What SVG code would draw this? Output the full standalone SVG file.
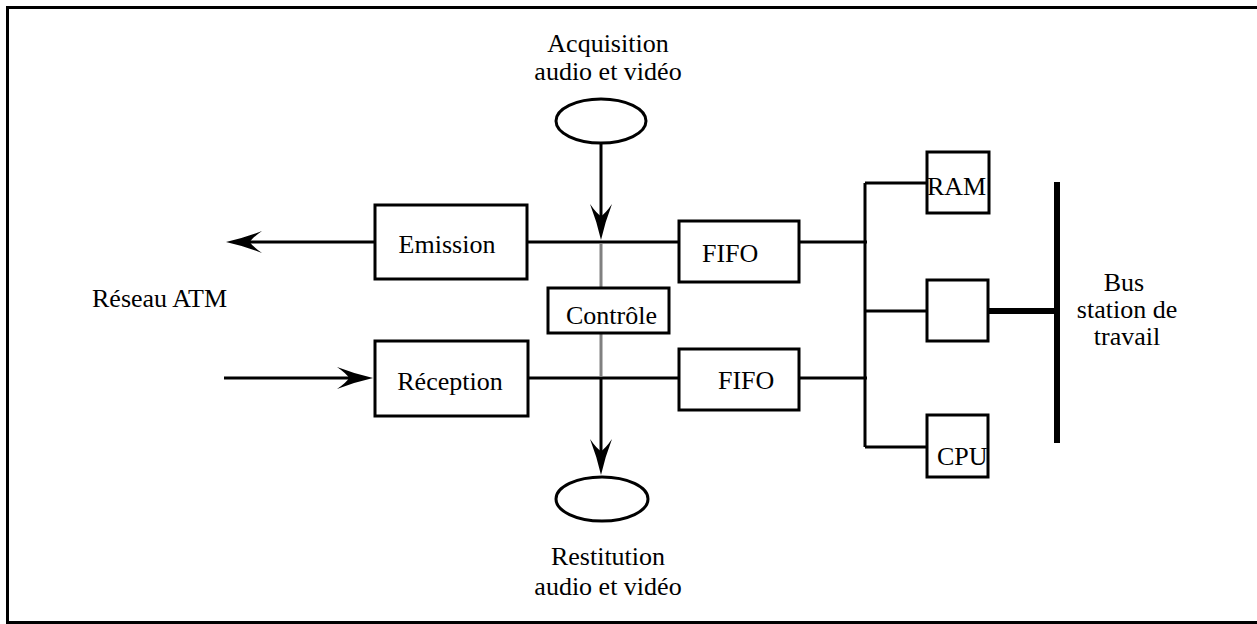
<svg xmlns="http://www.w3.org/2000/svg" width="1257" height="624" viewBox="0 0 1257 624">
<style>
  text { font-family: 'Liberation Serif', 'DejaVu Serif', serif; font-size: 26px; fill: #000; }
  .c { text-anchor: middle; }
  .box { fill: #fff; stroke: #000; stroke-width: 3; }
  .ell { fill: #fff; stroke: #000; stroke-width: 3; }
  .ln { fill: none; stroke: #000; stroke-width: 3; }
  .grey { fill: none; stroke: #808080; stroke-width: 3; }
  .thick { fill: none; stroke: #000; stroke-width: 6; }
</style>
<defs>
  <marker id="arr" markerUnits="userSpaceOnUse" markerWidth="40" markerHeight="26" viewBox="-27 -13 40 26" refX="0" refY="0" orient="auto">
    <path d="M10,0 Q-8,-4 -26,-11 Q-16,-4 -14,0 Q-16,4 -26,11 Q-8,4 10,0 Z" fill="#000"/>
  </marker>
</defs>
<rect x="7.5" y="7.5" width="1260" height="615" fill="none" stroke="#000" stroke-width="3"/>

<g id="connectors">
  <path class="ln" d="M601,143 V230" marker-end="url(#arr)"/>
  <path class="ln" d="M375,242 H236" marker-end="url(#arr)"/>
  <path class="ln" d="M527,242 H679"/>
  <path class="ln" d="M799,242 H867"/>
  <path class="ln" d="M224,378 H363" marker-end="url(#arr)"/>
  <path class="ln" d="M528,378 H679"/>
  <path class="ln" d="M799,378 H867"/>
  <path class="grey" d="M601,243.5 V288 M601,333 V377"/>
  <path class="ln" d="M601,377 V465" marker-end="url(#arr)"/>
  <path class="ln" d="M865,183 V447 M865,183 H927 M865,311 H927 M865,447 H927"/>
  <path class="thick" d="M988,311 H1057"/>
  <path class="thick" d="M1057,182 V443"/>
</g>

<g id="acquisition">
  <ellipse class="ell" cx="601" cy="121" rx="45" ry="22"/>
  <text class="c" x="608" y="52">Acquisition</text>
  <text class="c" x="608" y="80">audio et vidéo</text>
</g>
<g id="restitution">
  <ellipse class="ell" cx="602" cy="499" rx="46" ry="22"/>
  <text class="c" x="608" y="565">Restitution</text>
  <text class="c" x="608" y="595">audio et vidéo</text>
</g>
<g id="emission">
  <rect class="box" x="375" y="205" width="152" height="74"/>
  <text class="c" x="447" y="253">Emission</text>
</g>
<g id="reception">
  <rect class="box" x="375" y="341" width="153" height="75"/>
  <text class="c" x="450" y="390">Réception</text>
</g>
<g id="controle">
  <rect class="box" x="548" y="288" width="121" height="45"/>
  <text x="566" y="324">Contrôle</text>
</g>
<g id="fifo1">
  <rect class="box" x="679" y="221" width="120" height="61"/>
  <text x="702" y="262">FIFO</text>
</g>
<g id="fifo2">
  <rect class="box" x="679" y="349" width="120" height="61"/>
  <text x="718" y="389">FIFO</text>
</g>
<g id="ram">
  <rect class="box" x="927" y="152" width="62" height="61"/>
  <text x="927" y="195">RAM</text>
</g>
<g id="interface">
  <rect class="box" x="927" y="280" width="61" height="61"/>
</g>
<g id="cpu">
  <rect class="box" x="927" y="415" width="61" height="62"/>
  <text x="937" y="465">CPU</text>
</g>
<g id="reseau">
  <text x="92" y="307">Réseau ATM</text>
</g>
<g id="bus">
  <text class="c" x="1124" y="291">Bus</text>
  <text class="c" x="1127" y="318">station de</text>
  <text class="c" x="1127" y="345">travail</text>
</g>
</svg>
